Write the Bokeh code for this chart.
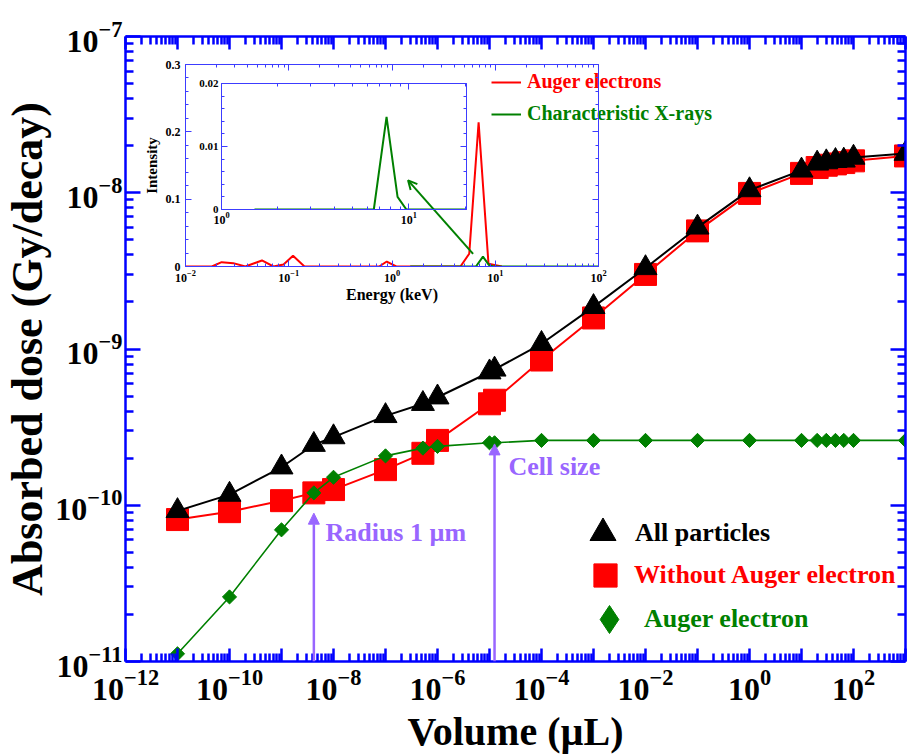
import math
from bokeh.plotting import figure
from bokeh.models import (Range1d, LogAxis, LinearAxis, FixedTicker, Legend, LegendItem,
                          Arrow, NormalHead, OpenHead, Label, ColumnDataSource)
from bokeh.embed import file_html
from bokeh.resources import INLINE

# ---------------- data ----------------
volume_uL = [1e-11, 1e-10, 1e-9, 4.19e-9, 1e-8, 1e-7, 5.24e-7, 1e-6, 1e-5, 1.25e-5,
             1e-4, 1e-3, 1e-2, 1e-1, 1.0, 10.0, 20.0, 30.0, 45.0, 65.0, 100.0, 1000.0]
dose_all_particles = [9.2e-11, 1.17e-10, 1.75e-10, 2.44e-10, 2.73e-10, 3.73e-10, 4.46e-10,
                      4.91e-10, 7.1e-10, 7.4e-10, 1.08e-9, 1.86e-9, 3.3e-9, 6.0e-9, 1.04e-8,
                      1.39e-8, 1.54e-8, 1.57e-8, 1.6e-8, 1.61e-8, 1.68e-8, 1.78e-8]
dose_without_auger = [8.1e-11, 9.1e-11, 1.07e-10, 1.2e-10, 1.26e-10, 1.69e-10, 2.15e-10,
                      2.6e-10, 4.46e-10, 4.7e-10, 8.5e-10, 1.58e-9, 3.0e-9, 5.7e-9, 9.9e-9,
                      1.33e-8, 1.45e-8, 1.5e-8, 1.53e-8, 1.56e-8, 1.6e-8, 1.72e-8]
dose_auger = [1.12e-11, 2.59e-11, 6.96e-11, 1.2e-10, 1.51e-10, 2.07e-10, 2.32e-10, 2.38e-10,
              2.51e-10, 2.51e-10, 2.6e-10, 2.6e-10, 2.6e-10, 2.6e-10, 2.6e-10, 2.6e-10,
              2.6e-10, 2.6e-10, 2.6e-10, 2.6e-10, 2.6e-10, 2.6e-10]
series_names = ["All particles", "Without Auger electron", "Auger electron"]

marker_volume = [4.19e-9, 1.25e-5]          # radius 1 um, cell size
marker_top_dose = [8.9e-11, 2.47e-10]
marker_texts = ["Radius 1 \u00b5m", "Cell size"]
marker_text_pos = [(7.0e-9, 6.67e-11), (2.32e-5, 1.76e-10)]

energy_auger_keV = [0.01, 0.018, 0.0224, 0.029, 0.038, 0.055, 0.071, 0.089, 0.11, 0.142,
                    0.75, 0.89, 1.1, 4.6, 5.6, 6.9, 8.6, 11.6]
intensity_auger = [0, 0, 0.0064, 0.005, 0, 0.009, 0, 0.003, 0.016, 0,
                   0, 0.0074, 0, 0, 0.019, 0.214, 0.004, 0]
energy_xray_keV = [1.5, 6.5, 7.6, 8.7, 9.7, 100.0]
intensity_xray = [0, 0, 0.0147, 0.002, 0, 0]
inset_names = ["Auger electrons", "Characteristic X-rays"]
inset_arrow = (6.1, 0.0188, 1.43, 0.128)

x_tick_exponents = list(range(-12, 4))
x_label_exponents = list(range(-12, 3, 2))
y_tick_exponents = list(range(-11, -6))

# ---------------- style ----------------
FONT = "Liberation Serif"
AXC = "#0000ff"
INC = "#3c3cff"
PURPLE = "#9966ff"
GREEN = "#008000"
RED = "#ff0000"
NAN = float("nan")


def dec(e):
    return float("1e%d" % e)


def minors(exps):
    return [m * dec(e) for e in exps[:-1] for m in range(2, 10)]


def style_axis(ax, color, lw, maj_in, min_in, lab_size, title_size=None):
    ax.axis_line_color = color
    ax.axis_line_width = lw
    ax.major_tick_line_color = color
    ax.major_tick_line_width = lw
    ax.minor_tick_line_color = color
    ax.minor_tick_line_width = lw
    ax.major_tick_in = maj_in
    ax.major_tick_out = 0
    ax.minor_tick_in = min_in
    ax.minor_tick_out = 0
    ax.major_label_text_font = FONT
    ax.major_label_text_font_style = "bold"
    ax.major_label_text_font_size = lab_size
    ax.major_label_text_color = "black"
    if title_size:
        ax.axis_label_text_font = FONT
        ax.axis_label_text_font_style = "bold"
        ax.axis_label_text_font_size = title_size
        ax.axis_label_text_color = "black"


def mirror_axis(fig, kind, ticker, side, color, lw, maj_in, min_in):
    ax = kind(ticker=ticker, major_label_overrides={t: "" for t in ticker.ticks})
    style_axis(ax, color, lw, maj_in, min_in, "1px")
    ax.major_label_standoff = 0
    fig.add_layout(ax, side)


def single_legend(fig, renderer, text, color, box_w, box_h, loc, standoff, size):
    # loc = (left, bottom) of the legend box, in px from the frame's lower-left corner
    lg = Legend(items=[LegendItem(label=text, renderers=[renderer])], location=loc,
                glyph_width=box_w, glyph_height=box_h, label_standoff=standoff,
                label_text_font=FONT, label_text_font_style="bold",
                label_text_font_size=size, label_text_color=color,
                label_text_baseline="middle", label_height=box_h,
                padding=0, margin=0, spacing=0, border_line_color=None,
                background_fill_alpha=0)
    fig.add_layout(lg)


# ---------------- main figure ----------------
p = figure(width=914, height=756, x_axis_type="log", y_axis_type="log",
           x_range=Range1d(1e-12, 1e3), y_range=Range1d(1e-11, 1e-7),
           output_backend="svg", toolbar_location=None,
           min_border_left=121, min_border_right=9, min_border_top=36, min_border_bottom=94)
p.grid.visible = False
p.outline_line_color = None
p.background_fill_color = "white"

xt = FixedTicker(ticks=[dec(e) for e in x_tick_exponents], minor_ticks=minors(x_tick_exponents))
yt = FixedTicker(ticks=[dec(e) for e in y_tick_exponents], minor_ticks=minors(y_tick_exponents))
p.xaxis.ticker = xt
p.yaxis.ticker = yt
p.xaxis.major_label_overrides = {dec(e): "" for e in x_tick_exponents if e not in x_label_exponents}
style_axis(p.xaxis[0], AXC, 2.5, 13, 8, "32px", "40px")
style_axis(p.yaxis[0], AXC, 2.5, 15, 8, "32px", "44px")
p.xaxis.axis_label = "Volume (\u00b5L)"
p.yaxis.axis_label = "Absorbed dose (Gy/decay)"
p.xaxis.major_label_standoff = 8
p.xaxis.axis_label_standoff = 6
p.yaxis.major_label_standoff = 3
p.yaxis.axis_label_standoff = 0
mirror_axis(p, LogAxis, FixedTicker(ticks=xt.ticks, minor_ticks=xt.minor_ticks), "above", AXC, 2.5, 13, 8)
mirror_axis(p, LogAxis, FixedTicker(ticks=yt.ticks, minor_ticks=yt.minor_ticks), "right", AXC, 2.5, 15, 8)

src = ColumnDataSource(dict(v=volume_uL, a=dose_all_particles, w=dose_without_auger, g=dose_auger))
p.line("v", "w", source=src, line_color=RED, line_width=2)
r_w = p.scatter("v", "w", source=src, marker="square", size=22, fill_color=RED, line_color=RED)
p.line("v", "a", source=src, line_color="black", line_width=2)
r_a = p.scatter("v", "a", source=src, marker="triangle", size=23, fill_color="black", line_color="black")
p.line("v", "g", source=src, line_color=GREEN, line_width=1.6)
p.scatter("v", "g", source=src, marker="square", angle=math.pi / 4, size=10,
          fill_color=GREEN, line_color=GREEN)
# legend-key glyphs (a single NaN point each, so nothing is drawn in the plot area)
r_g_key = p.scatter(x=[NAN], y=[NAN], marker="diamond", fill_color=GREEN, line_color=GREEN)
r_ia_key = p.line(x=[NAN], y=[NAN], line_color=RED, line_width=2)
r_ix_key = p.line(x=[NAN], y=[NAN], line_color=GREEN, line_width=2)

for xv, yt_, txt, (lx, ly) in zip(marker_volume, marker_top_dose, marker_texts, marker_text_pos):
    p.add_layout(Arrow(end=NormalHead(size=11, fill_color=PURPLE, line_color=PURPLE, line_width=1),
                       x_start=xv, y_start=1e-11, x_end=xv, y_end=yt_,
                       line_color=PURPLE, line_width=2.5))
    p.add_layout(Label(x=lx, y=ly, text=txt, text_font=FONT, text_font_style="bold",
                       text_font_size="26px", text_color=PURPLE, text_baseline="middle"))

single_legend(p, r_a, series_names[0], "black", 65, 65, (445, 96), -6, "26px")
single_legend(p, r_w, series_names[1], RED, 58, 58, (451, 57), 0, "26px")
single_legend(p, r_g_key, series_names[2], GREEN, 70, 70, (449, 7), -11, "26px")
# legend of the inset spectrum (it lies partly outside the inset frame)
single_legend(p, r_ia_key, inset_names[0], RED, 30, 20, (366, 568), 6, "20px")
single_legend(p, r_ix_key, inset_names[1], GREEN, 30, 20, (366, 536), 6, "20px")

# ---------------- inset ----------------
ins = figure(width=585, height=259, x_axis_type="log",
             x_range=Range1d(0.01, 100), y_range=Range1d(0, 0.3),
             output_backend="svg", toolbar_location=None,
             min_border_left=45, min_border_right=127, min_border_top=12, min_border_bottom=45)
ins.styles = {"position": "absolute", "left": "140px", "top": "52px"}
ins.grid.visible = False
ins.outline_line_color = None
ins.border_fill_alpha = 0
ins.background_fill_alpha = 0
ix_exp = list(range(-2, 3))
ixt = FixedTicker(ticks=[dec(e) for e in ix_exp], minor_ticks=minors(ix_exp))
iyt = FixedTicker(ticks=[0, 0.1, 0.2, 0.3], minor_ticks=[k * 0.02 for k in range(16)])
ins.xaxis.ticker = ixt
ins.yaxis.ticker = iyt
ins.yaxis.major_label_overrides = {0: "0", 0.1: "0.1", 0.2: "0.2", 0.3: "0.3"}
style_axis(ins.xaxis[0], INC, 1, 6, 3, "12px", "16px")
style_axis(ins.yaxis[0], INC, 1, 6, 3, "12px", "15px")
ins.xaxis.axis_label = "Energy (keV)"
ins.yaxis.axis_label = "Intensity"
ins.xaxis.major_label_standoff = 3
ins.xaxis.axis_label_standoff = 1
ins.yaxis.major_label_standoff = 5
ins.yaxis.axis_label_standoff = 3
mirror_axis(ins, LogAxis, FixedTicker(ticks=ixt.ticks, minor_ticks=ixt.minor_ticks), "above", INC, 1, 6, 3)
mirror_axis(ins, LinearAxis, FixedTicker(ticks=iyt.ticks, minor_ticks=iyt.minor_ticks), "right", INC, 1, 6, 3)

ins.line(energy_auger_keV, intensity_auger, line_color=RED, line_width=2)
ins.line(energy_xray_keV, intensity_xray, line_color=GREEN, line_width=2)
ins.add_layout(Arrow(end=OpenHead(size=9, line_color=GREEN, line_width=2),
                     x_start=inset_arrow[0], y_start=inset_arrow[1],
                     x_end=inset_arrow[2], y_end=inset_arrow[3],
                     line_color=GREEN, line_width=2))

# ---------------- inset of the inset ----------------
sub = figure(width=281, height=157, x_axis_type="log",
             x_range=Range1d(1, 20.3), y_range=Range1d(0, 0.02),
             output_backend="svg", toolbar_location=None,
             min_border_left=26, min_border_right=10, min_border_top=11, min_border_bottom=20)
sub.styles = {"position": "absolute", "left": "195px", "top": "72px"}
sub.grid.visible = False
sub.outline_line_color = None
sub.border_fill_alpha = 0
sub.background_fill_alpha = 0
sxt = FixedTicker(ticks=[1.0, 10.0], minor_ticks=[2, 3, 4, 5, 6, 7, 8, 9, 20])
syt = FixedTicker(ticks=[0, 0.01, 0.02], minor_ticks=[k * 0.002 for k in range(11)])
sub.xaxis.ticker = sxt
sub.yaxis.ticker = syt
sub.yaxis.major_label_overrides = {0: "0", 0.01: "0.01", 0.02: "0.02"}
style_axis(sub.xaxis[0], INC, 1, 6, 3, "12px")
style_axis(sub.yaxis[0], INC, 1, 6, 3, "11px")
sub.xaxis.major_label_standoff = 2
sub.yaxis.major_label_standoff = 3
mirror_axis(sub, LogAxis, FixedTicker(ticks=sxt.ticks, minor_ticks=sxt.minor_ticks), "above", INC, 1, 6, 3)
mirror_axis(sub, LinearAxis, FixedTicker(ticks=syt.ticks, minor_ticks=syt.minor_ticks), "right", INC, 1, 6, 3)
sub.line(energy_xray_keV, intensity_xray, line_color=GREEN, line_width=2)

open("out.html", "w").write(file_html([p, ins, sub], INLINE))
